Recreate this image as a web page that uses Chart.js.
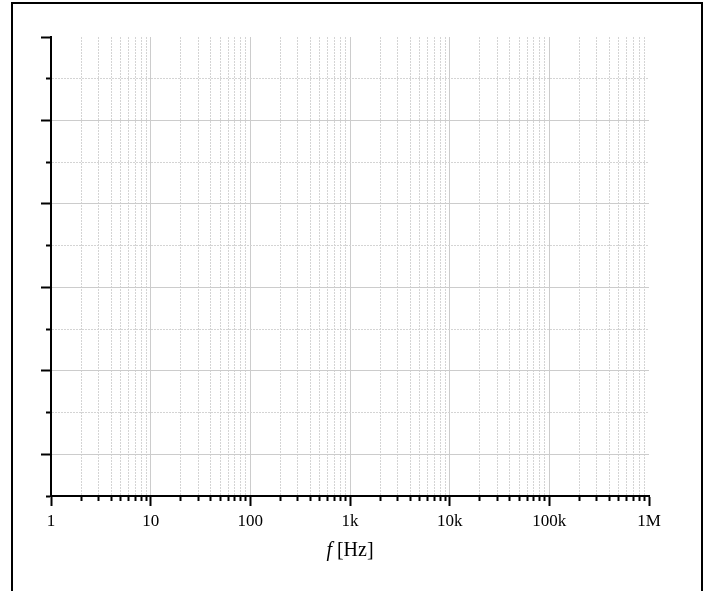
<!DOCTYPE html>
<html>
<head>
<meta charset="utf-8">
<script src="https://cdn.jsdelivr.net/npm/chart.js@4/dist/chart.umd.min.js"></script>
<style>
  body { margin: 0; background: #fff; overflow: hidden; }
  #wrap { position: relative; width: 709px; height: 591px; }
  #frame { position: absolute; left: 11px; top: 2px; width: 688px; height: 700px; border: 2px solid #000; }
  #canvas { position: absolute; left: 0; top: 0; }
  #xtitle { position: absolute; left: 0; top: 539px; width: 700px; text-align: center;
            font: 20px "Liberation Serif", serif; line-height: 20px; color: #000; }
</style>
</head>
<body>
<div id="wrap">
  <div id="frame"></div>
  <canvas id="canvas" width="709" height="591"></canvas>
  <div id="xtitle"><i>f</i> [Hz]</div>
</div>
<script>
// frequency axis: decades and the 2..9 steps between them
const decades = [1, 10, 100, 1000, 10000, 100000, 1000000];
const decadeLabels = ['1', '10', '100', '1k', '10k', '100k', '1M'];
const minorSteps = [2, 3, 4, 5, 6, 7, 8, 9];
// vertical axis has no labels, just ticks 0..11
const yMin = 0;
const yMax = 11;
const yMajor = [1, 3, 5, 7, 9, 11];

const majorGrid = '#cccccc';
const minorGrid = '#d4d4d4';
const clear = 'rgba(0,0,0,0)';

function xTickList() {
  let list = [];
  for (let i = 0; i < decades.length; i++) {
    list.push({value: decades[i]});
    if (i < decades.length - 1) {
      minorSteps.forEach(m => list.push({value: decades[i] * m}));
    }
  }
  return list;
}
const isDecade = v => decades.indexOf(v) >= 0;
const isYMajor = v => yMajor.indexOf(v) >= 0;

let ctx = document.getElementById('canvas').getContext('2d');
let chart = new Chart(ctx, {
  type: 'scatter',
  data: {datasets: [{data: []}]},
  options: {
    responsive: false,
    animation: false,
    layout: {padding: {left: 41, right: 60, top: 37, bottom: 0}},
    plugins: {legend: {display: false}, tooltip: {enabled: false}},
    scales: {
      x: {
        type: 'logarithmic',
        min: decades[0],
        max: decades[decades.length - 1],
        afterBuildTicks: (scale) => { scale.ticks = xTickList(); },
        afterFit: (scale) => { scale.height = 95; },
        ticks: {
          autoSkip: false, maxRotation: 0, minRotation: 0, padding: 5,
          color: '#000',
          font: {family: '"Liberation Serif", serif', size: 17},
          callback: (value) => {
            let i = decades.indexOf(value);
            return i >= 0 ? decadeLabels[i] : '';
          }
        },
        grid: {
          color: (c) => {
            if (!c.tick) return majorGrid;
            let v = c.tick.value;
            if (v === decades[0] || v === decades[decades.length - 1]) return clear;
            return isDecade(v) ? majorGrid : minorGrid;
          },
          lineWidth: 1,
          drawTicks: true,
          tickLength: 10,
          tickColor: '#000',
          tickWidth: 2,
          tickBorderDash: (c) => (c.tick && !isDecade(c.tick.value)) ? [4, 100] : []
        },
        border: {
          display: true, color: '#000', width: 2,
          dash: (c) => (c.tick && !isDecade(c.tick.value)) ? [2, 1] : []
        }
      },
      y: {
        type: 'linear',
        min: yMin,
        max: yMax,
        afterFit: (scale) => { scale.width = 10; },
        ticks: {stepSize: 1, display: false},
        grid: {
          color: (c) => {
            if (!c.tick) return majorGrid;
            let v = c.tick.value;
            if (v === yMin || v === yMax) return clear;
            return isYMajor(v) ? majorGrid : minorGrid;
          },
          lineWidth: 1,
          drawTicks: true,
          tickLength: 10,
          tickColor: '#000',
          tickWidth: 2,
          tickBorderDash: (c) => (c.tick && !isYMajor(c.tick.value)) ? [5, 100] : [],
          tickBorderDashOffset: (c) => (c.tick && !isYMajor(c.tick.value)) ? 100 : 0
        },
        border: {
          display: true, color: '#000', width: 2,
          dash: (c) => (c.tick && !isYMajor(c.tick.value)) ? [2, 1] : []
        }
      }
    }
  }
});
</script>
</body>
</html>
